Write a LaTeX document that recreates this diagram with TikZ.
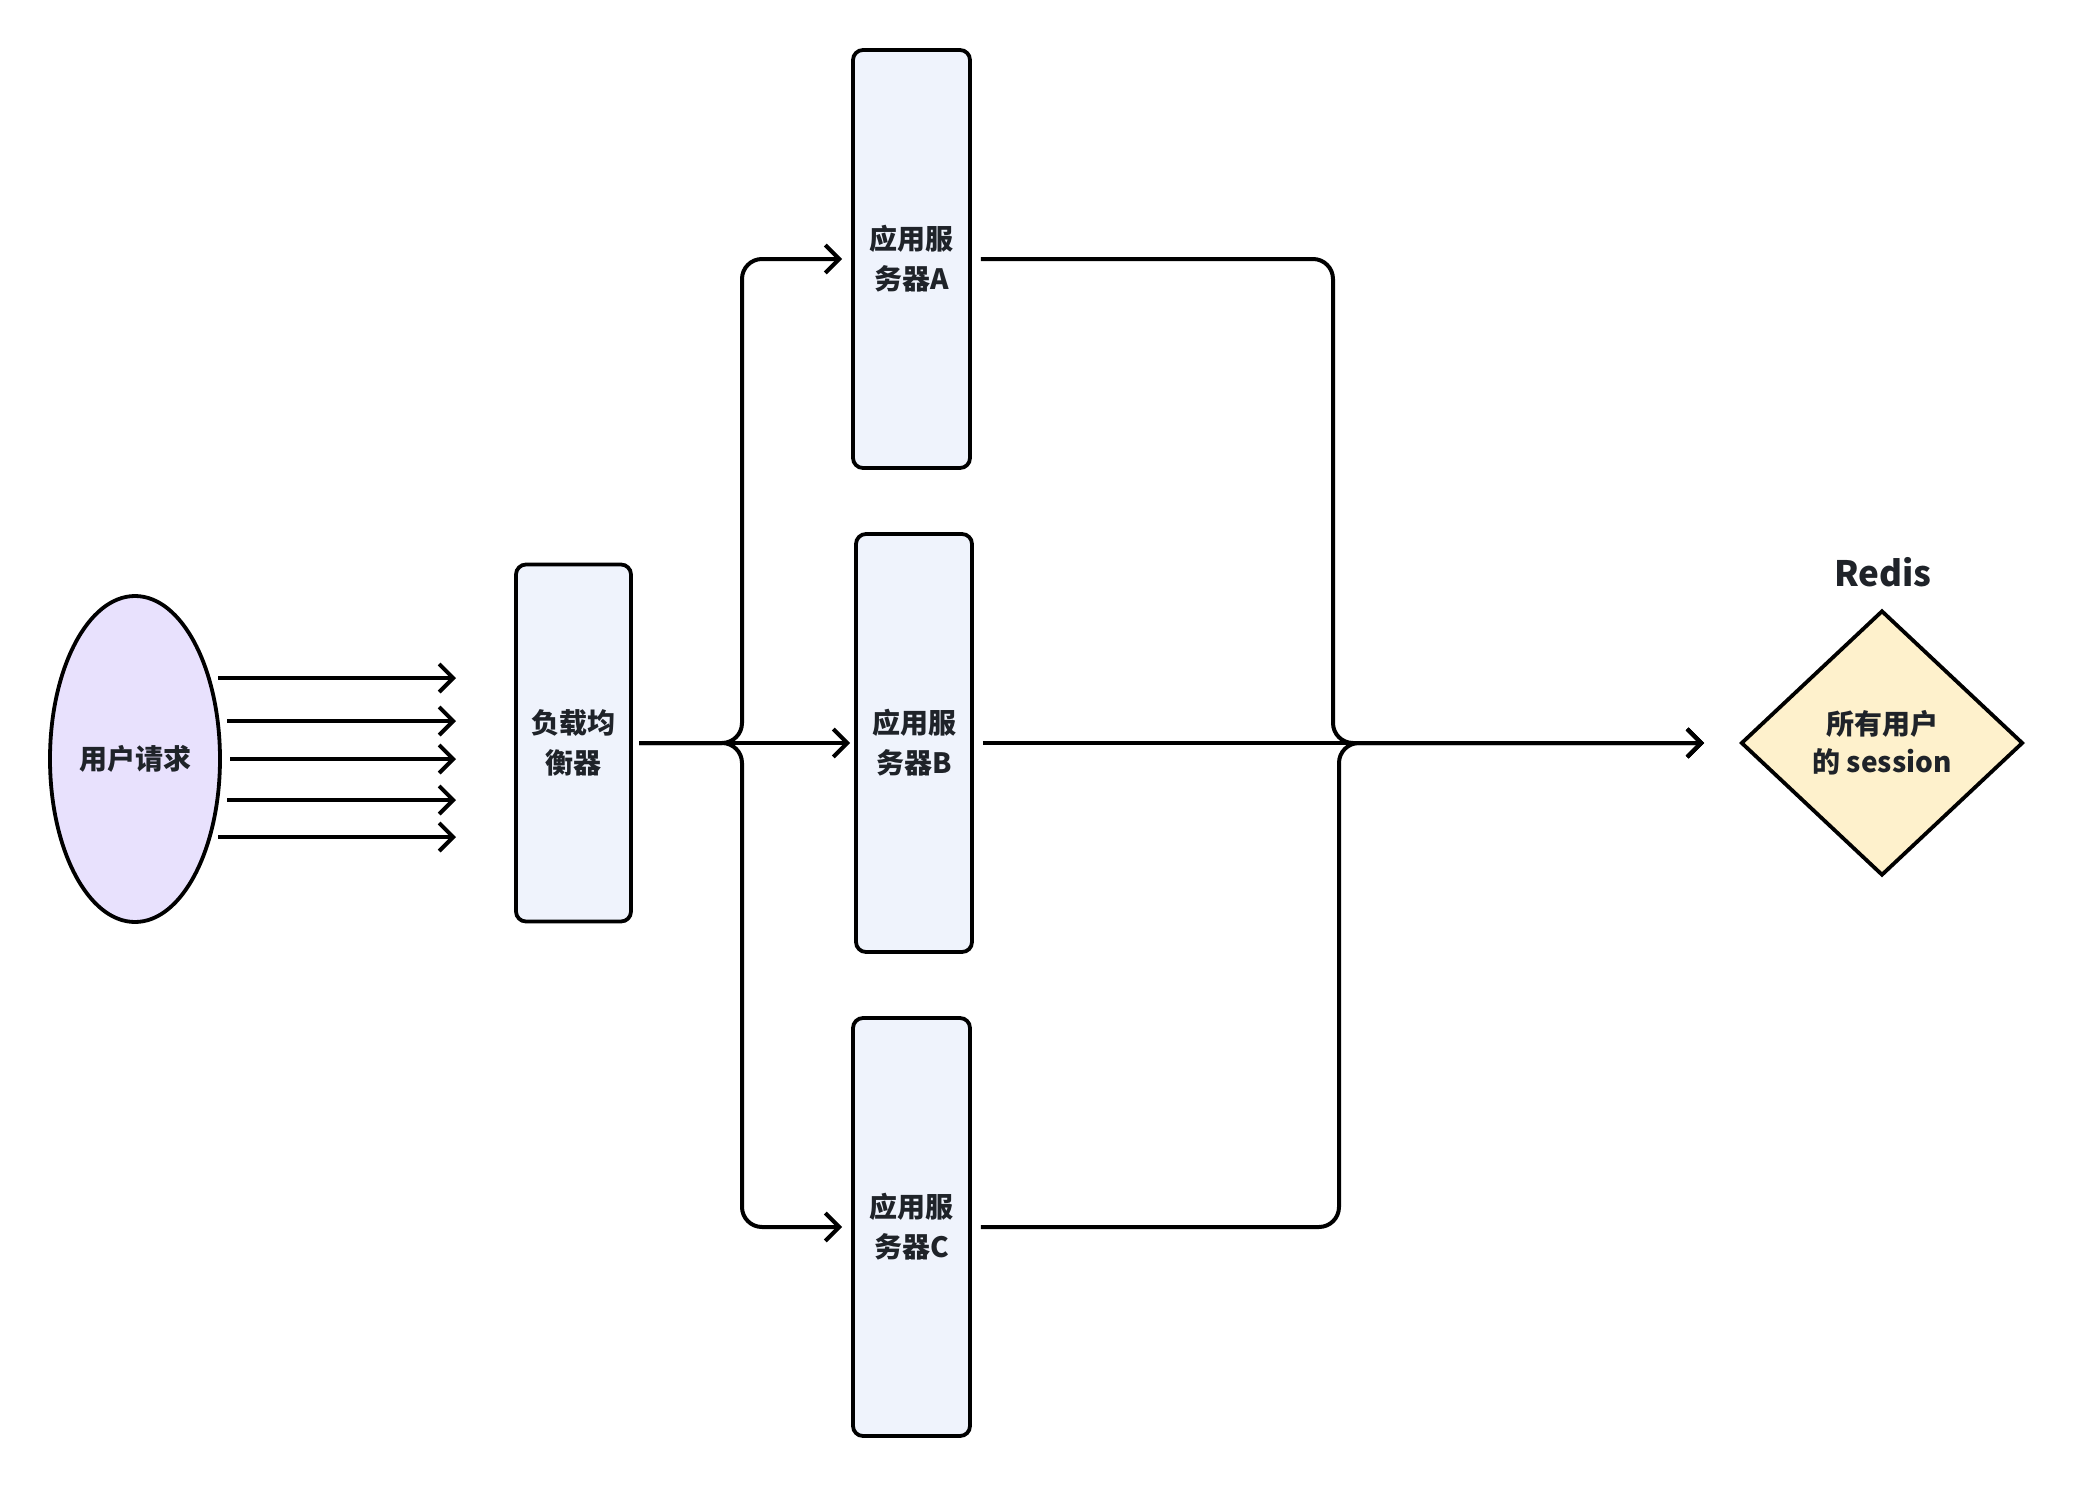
\documentclass[tikz,border=0pt]{standalone}
\usepackage{fontspec}
\setmainfont{Noto Sans CJK SC}
\usetikzlibrary{arrows.meta,shapes.geometric}
\definecolor{txt}{HTML}{1F2329}
\definecolor{lav}{HTML}{E8E1FD}
\definecolor{boxfill}{HTML}{EFF3FC}
\definecolor{diafill}{HTML}{FEF1CC}
\tikzset{
  lbl/.style={font=\fontsize{14pt}{20pt}\selectfont\bfseries, text=txt, align=center},
  bar/.style={draw=black, line width=1.9pt, fill=boxfill, rounded corners=5pt, inner sep=0pt, lbl},
  conn/.style={draw=black, line width=2pt, -{Straight Barb[length=7pt,width=14pt,line width=2pt]}},
  elbow/.style={conn, rounded corners=10pt}
}
\begin{document}
\begin{tikzpicture}[x=0.5pt,y=-0.5pt]
\useasboundingbox (0,0) rectangle (2074,1488);
% user requests
\node[ellipse, draw=black, line width=1.9pt, fill=lav, minimum width=85pt, minimum height=163pt, inner sep=0pt, lbl] (u) at (135,759) {用户请求};
% load balancer
\node[bar, minimum width=57.5pt, minimum height=178.5pt] (lb) at (573.5,743) {负载均\\衡器};
% servers
\node[bar, minimum width=58.5pt, minimum height=209pt] (sa) at (911.5,259) {应用服\\务器A};
\node[bar, minimum width=58pt, minimum height=209pt] (sb) at (914,743) {应用服\\务器B};
\node[bar, minimum width=58.5pt, minimum height=209pt] (sc) at (911.5,1227) {应用服\\务器C};
% redis
\node[diamond, draw=black, line width=1.9pt, fill=diafill, minimum width=141pt, minimum height=132.5pt, inner sep=0pt, lbl, font=\fontsize{14pt}{19pt}\selectfont\bfseries] (rd) at (1882,743) {所有用户\\的 session};
\node[font=\fontsize{17.5pt}{20pt}\selectfont\bfseries, text=txt] (rt) at (1883,572) {Redis};
% request arrows
\coordinate (s1) at (218,678); \coordinate (t1) at (456,678);
\coordinate (s2) at (227,721); \coordinate (t2) at (456,721);
\coordinate (s3) at (230,759); \coordinate (t3) at (456,759);
\coordinate (s4) at (227,800); \coordinate (t4) at (456,800);
\coordinate (s5) at (218,837); \coordinate (t5) at (456,837);
\foreach \i in {1,...,5} \draw[conn] (s\i) -- (t\i);
% split from load balancer
\coordinate (lbo) at (639,743);
\coordinate (split) at (742,743);
\draw[elbow] (lbo) -| (split |- sa.west) -- ([xshift=-4.5pt]sa.west);
\draw[conn] (lbo) -- ([xshift=-2pt]sb.west);
\draw[elbow] (lbo) -| (split |- sc.west) -- ([xshift=-4.5pt]sc.west);
% merge to redis
\coordinate (rin) at (1704,743);
\coordinate (mA) at (1333,743);
\coordinate (mC) at (1339,743);
\draw[elbow] ([xshift=4.5pt]sa.east) -| (mA) -- (rin);
\draw[conn] ([xshift=4.5pt]sb.east) -- (rin);
\draw[elbow] ([xshift=4.5pt]sc.east) -| (mC) -- (rin);
\end{tikzpicture}
\end{document}
